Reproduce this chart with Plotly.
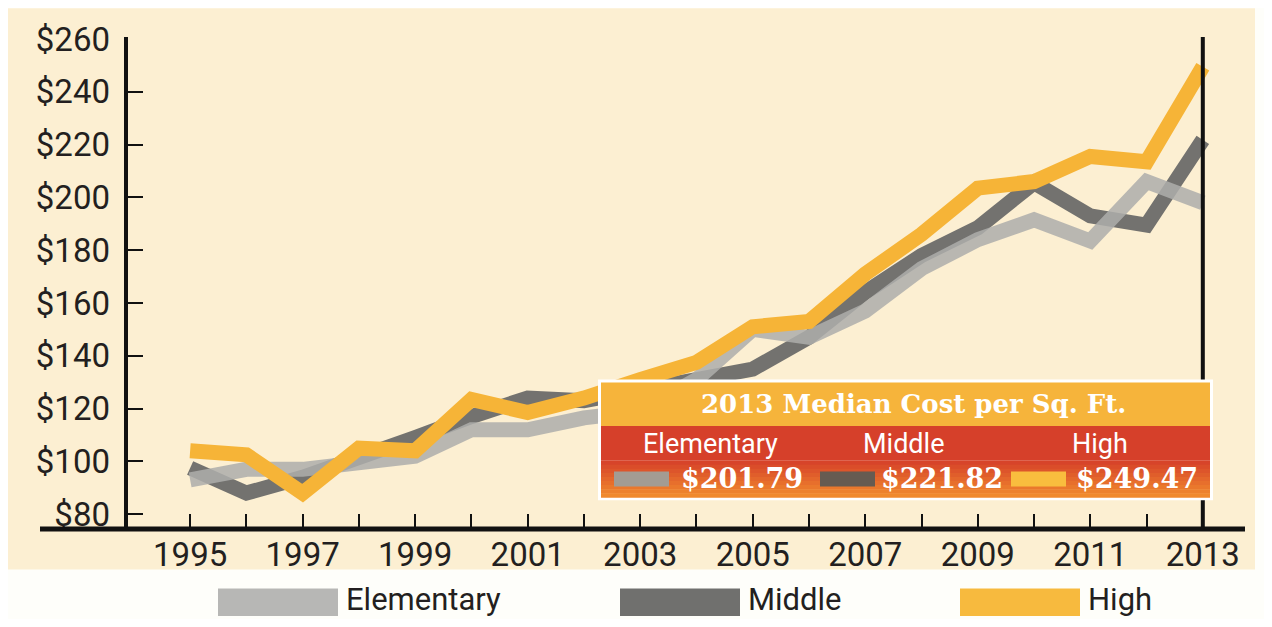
import plotly.graph_objects as go

years = list(range(1995, 2014))
elementary = [93, 97, 97, 100, 102, 112, 112, 116.5, 119, 131, 150, 147, 157, 173, 184, 191.5, 183.5, 206, 198]
middle = [97.5, 88, 94, 101, 109, 117, 124, 123, 127, 132, 135, 147, 164, 178, 188.5, 205.5, 193, 189.5, 221.82]
high = [104, 102.5, 88, 105, 104, 123.5, 118.5, 124, 131, 137.5, 151, 153, 171, 186, 203.5, 206, 215.5, 213.5, 249.47]

series_names = ["Elementary", "Middle", "High"]
box_title = "2013 Median Cost per Sq. Ft."
box_values = ["$201.79", "$221.82", "$249.47"]

y_ticks = [80, 100, 120, 140, 160, 180, 200, 220, 240, 260]
y_ticktext = ["$" + str(v) for v in y_ticks]
x_ticktext = [str(y) if (y - 1995) % 2 == 0 else "" for y in years]

LINE_COLORS = {"Elementary": "#AEAEAC", "Middle": "#6C6C6A", "High": "#F6B437"}
CREAM = "#FCEFD2"
NARROW = "Roboto, Lato, sans-serif"
SERIF = "DejaVu Serif, Liberation Serif, serif"

# page offset of the figure (browser body margin)
OFF = 8
W, H = 1272 - 2 * OFF, 627 - 2 * OFF
# plot area in reference pixel coordinates
L, R, T, B = 126, 1245, 34, 529


def px(x):
    return (x - L) / (R - L)


def py(y):
    return (B - y) / (B - T)


fig = go.Figure()
for name, vals, op in [("Middle", middle, 0.95), ("Elementary", elementary, 0.85), ("High", high, 1.0)]:
    fig.add_trace(go.Scatter(x=years, y=vals, mode="lines", name=name,
                             line=dict(color=LINE_COLORS[name], width=15),
                             opacity=op, showlegend=False))

shapes = []
shapes.append(dict(type="rect", xref="paper", yref="paper", x0=px(0), x1=px(1255), y0=py(570), y1=py(3),
                   fillcolor=CREAM, line=dict(width=0), layer="below"))
shapes.append(dict(type="line", xref="paper", yref="paper", x0=px(40), x1=px(1245), y0=py(529), y1=py(529),
                   line=dict(color="#111111", width=5)))
shapes.append(dict(type="line", xref="paper", yref="paper", x0=px(126), x1=px(126), y0=py(531), y1=py(32),
                   line=dict(color="#111111", width=4)))
shapes.append(dict(type="line", xref="x", yref="paper", x0=years[-1], x1=years[-1], y0=py(529), y1=py(32),
                   line=dict(color="#111111", width=4)))

bx0, bx1, by0, by1 = 598, 1213, 378, 500
shapes.append(dict(type="rect", xref="paper", yref="paper", x0=px(bx0), x1=px(bx1), y0=py(by1), y1=py(by0),
                   fillcolor="#FFFFFF", line=dict(width=0)))
shapes.append(dict(type="rect", xref="paper", yref="paper", x0=px(bx0 + 3), x1=px(bx1 - 3), y0=py(425), y1=py(by0 + 3),
                   fillcolor="#F6B43B", line=dict(width=0)))
shapes.append(dict(type="rect", xref="paper", yref="paper", x0=px(bx0 + 3), x1=px(bx1 - 3), y0=py(460), y1=py(425),
                   fillcolor="#D6402A", line=dict(width=0)))
c0 = (0xD6, 0x40, 0x2A)
c1 = (0xF2, 0x8E, 0x2E)
nb = 9
top = 460
bot = by1 - 3
for i in range(nb):
    t = (i + 0.5) / nb
    col = "rgb(%d,%d,%d)" % tuple(int(c0[k] + (c1[k] - c0[k]) * t) for k in range(3))
    ya = top + (bot - top) * i / nb
    yb = top + (bot - top) * (i + 1) / nb
    shapes.append(dict(type="rect", xref="paper", yref="paper", x0=px(bx0 + 3), x1=px(bx1 - 3),
                       y0=py(yb + 0.5), y1=py(ya), fillcolor=col, line=dict(width=0)))

swatch_cols = ["#A39C93", "#665B51", "#F9BD3E"]
swatch_x = [614, 820, 1011]
for sx, sc in zip(swatch_x, swatch_cols):
    shapes.append(dict(type="rect", xref="paper", yref="paper", x0=px(sx), x1=px(sx + 55), y0=py(486), y1=py(471),
                       fillcolor=sc, line=dict(width=0)))

leg_cols = ["#B7B7B5", "#70706E", "#F7BA3E"]
leg_x = [218, 620, 960]
for lx, lc in zip(leg_x, leg_cols):
    shapes.append(dict(type="rect", xref="paper", yref="paper", x0=px(lx), x1=px(lx + 120), y0=py(617), y1=py(589),
                       fillcolor=lc, line=dict(width=0)))

annotations = []
annotations.append(dict(text="<b>" + box_title + "</b>", xref="paper", yref="paper", x=px(913), y=py(403),
                        showarrow=False, font=dict(family=SERIF, size=26, color="#FFFFFF"),
                        xanchor="center", yanchor="middle"))
label_x = [710, 903, 1100]
value_x = [742, 942, 1137]
for i, nm in enumerate(series_names):
    annotations.append(dict(text=nm, xref="paper", yref="paper", x=px(label_x[i]), y=py(443), showarrow=False,
                            font=dict(family=NARROW, size=27, color="#FFFFFF"), xanchor="center", yanchor="middle"))
    annotations.append(dict(text="<b>" + box_values[i] + "</b>", xref="paper", yref="paper", x=px(value_x[i]),
                            y=py(478), showarrow=False, font=dict(family=SERIF, size=27, color="#FFFFFF"),
                            xanchor="center", yanchor="middle"))
for lx, nm in zip(leg_x, series_names):
    annotations.append(dict(text=nm, xref="paper", yref="paper", x=px(lx + 126), y=py(600), showarrow=False,
                            font=dict(family=NARROW, size=31, color="#231F20"), xanchor="left", yanchor="middle"))

fig.update_layout(
    width=W, height=H,
    margin=dict(l=L - OFF, r=(W + OFF) - R, t=T - OFF, b=(H + OFF) - B, pad=0),
    paper_bgcolor="#FEFEFA",
    plot_bgcolor="rgba(0,0,0,0)",
    shapes=shapes,
    annotations=annotations,
    xaxis=dict(range=[1993.86, 2013.75], tickvals=years, ticktext=x_ticktext, ticks="inside", ticklen=15,
               tickwidth=2, tickcolor="#111111", showgrid=False, zeroline=False, showline=False,
               tickfont=dict(family=NARROW, size=33, color="#231F20"), ticklabelstandoff=3),
    yaxis=dict(range=[74.4, 260], tickvals=y_ticks, ticktext=y_ticktext, ticks="inside", ticklen=17,
               tickwidth=2, tickcolor="#111111", showgrid=False, zeroline=False, showline=False,
               tickfont=dict(family=NARROW, size=33, color="#231F20"), ticklabelstandoff=15),
)

fig.write_html("out.html")
